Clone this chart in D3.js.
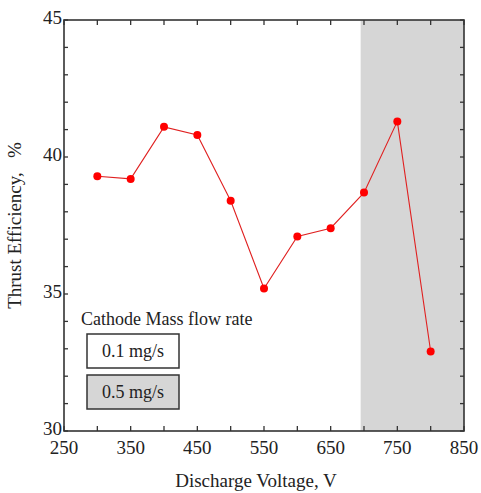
<!DOCTYPE html>
<meta charset="utf-8">
<style>
body { margin: 0; background: #fff; }
text { font-family: "Liberation Serif", "Times New Roman", serif; fill: #222; }
</style>
<body>
<script src="https://d3js.org/d3.v7.min.js"></script>
<script>

var voltage = [300, 350, 400, 450, 500, 550, 600, 650, 700, 750, 800];
var efficiency = [39.3, 39.2, 41.1, 40.8, 38.4, 35.2, 37.1, 37.4, 38.7, 41.3, 32.9];
var xLabels = [250, 350, 450, 550, 650, 750, 850];
var yLabels = [30, 35, 40, 45];
var shadedRange = [695, 850];
var legendTitle = "Cathode Mass flow rate";
var legendItems = ["0.1 mg/s", "0.5 mg/s"];

var margin = {top: 20, right: 17, bottom: 62, left: 64},
    width = 481 - margin.left - margin.right,
    height = 493 - margin.top - margin.bottom;

var svg = d3.select("body").append("svg")
    .attr("width", 481)
    .attr("height", 493)
  .append("g")
    .attr("transform", "translate(" + margin.left + "," + margin.top + ")");

var x = d3.scaleLinear().domain([250, 850]).range([0, width]);
var y = d3.scaleLinear().domain([30, 45]).range([height, 0]);

// shaded 0.5 mg/s region
svg.append("rect")
    .attr("x", x(shadedRange[0]))
    .attr("y", 0)
    .attr("width", x(shadedRange[1]) - x(shadedRange[0]))
    .attr("height", height)
    .style("fill", "#d6d6d6");

// inward ticks on all four sides
var xt = d3.range(250, 851, 50), yt = d3.range(30, 46, 1);
var ticks = svg.append("g").style("stroke", "#333").style("stroke-width", 1.3);
xt.forEach(function(v) {
  ticks.append("line").attr("x1", x(v)).attr("x2", x(v)).attr("y1", height).attr("y2", height - 5);
  ticks.append("line").attr("x1", x(v)).attr("x2", x(v)).attr("y1", 0).attr("y2", 5);
});
yt.forEach(function(v) {
  ticks.append("line").attr("x1", 0).attr("x2", 4).attr("y1", y(v)).attr("y2", y(v));
  ticks.append("line").attr("x1", width).attr("x2", width - 4).attr("y1", y(v)).attr("y2", y(v));
});

svg.append("rect")
    .attr("width", width)
    .attr("height", height)
    .style("fill", "none")
    .style("stroke", "#333")
    .style("stroke-width", 1.6);

svg.selectAll(".xl")
    .data(xLabels)
  .enter().append("text")
    .attr("x", function(d) { return x(d); })
    .attr("y", height + 23)
    .attr("text-anchor", "middle")
    .style("font-size", "19px")
    .text(function(d) { return d; });

svg.selectAll(".yl")
    .data(yLabels)
  .enter().append("text")
    .attr("x", -2)
    .attr("y", function(d) { return y(d); })
    .attr("dy", "0.22em")
    .attr("text-anchor", "end")
    .style("font-size", "19px")
    .text(function(d) { return d; });

svg.append("text")
    .attr("text-anchor", "middle")
    .attr("transform", "translate(" + (width / 2 - 8) + "," + (height + 56) + ")")
    .style("font-size", "19px")
    .text("Discharge Voltage, V");

svg.append("text")
    .attr("text-anchor", "middle")
    .attr("transform", "translate(-43," + (height / 2) + ")rotate(-90)")
    .style("font-size", "19px")
    .text("Thrust Efficiency,\u00a0\u00a0\u00a0%");

var line = d3.line()
    .x(function(d, i) { return x(voltage[i]); })
    .y(function(d) { return y(d); });

svg.append("path")
    .datum(efficiency)
    .attr("d", line)
    .style("fill", "none")
    .style("stroke", "#e02020")
    .style("stroke-width", 1.1);

svg.selectAll(".dot")
    .data(efficiency)
  .enter().append("circle")
    .attr("r", 4)
    .attr("cx", function(d, i) { return x(voltage[i]); })
    .attr("cy", function(d) { return y(d); })
    .style("fill", "#f00");

// legend
svg.append("text")
    .attr("x", 17)
    .attr("y", 305)
    .style("font-size", "18px")
    .text(legendTitle);

var legend = svg.selectAll(".legend")
    .data(legendItems)
  .enter().append("g")
    .attr("transform", function(d, i) { return "translate(23," + (314 + i * 41) + ")"; });

legend.append("rect")
    .attr("width", 92)
    .attr("height", 34)
    .style("fill", function(d, i) { return i ? "#d6d6d6" : "#fff"; })
    .style("stroke", "#333")
    .style("stroke-width", 1.5);

legend.append("text")
    .attr("x", 46)
    .attr("y", 17)
    .attr("dy", "0.35em")
    .attr("text-anchor", "middle")
    .style("font-size", "18px")
    .text(function(d) { return d; });

</script>
